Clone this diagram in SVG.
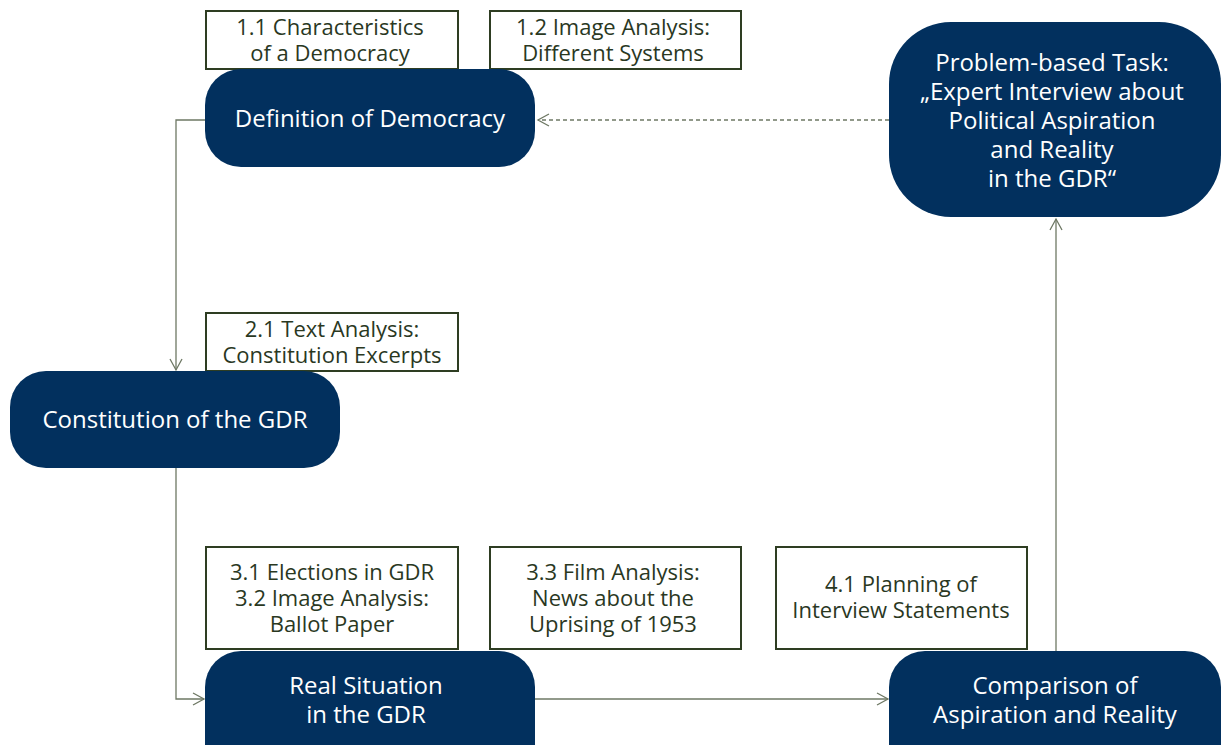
<svg xmlns="http://www.w3.org/2000/svg" width="1221" height="745" viewBox="0 0 1221 745">
<defs>
<style>
.node{fill:#02305e;}
.nt{font-family:"Open Sans","Noto Sans",sans-serif;font-size:24px;fill:#ffffff;text-anchor:middle;}
.box{fill:#ffffff;stroke:#2e3d22;stroke-width:2;}
.bt{font-family:"Open Sans","Noto Sans",sans-serif;font-size:22px;fill:#2a381f;text-anchor:middle;}
.con{fill:none;stroke:#6e7864;stroke-width:1.3;}
.dash{stroke-dasharray:4 3;}
</style>
<marker id="arr" markerWidth="14" markerHeight="14" refX="12" refY="7" orient="auto" markerUnits="userSpaceOnUse">
<path d="M1,1 L12,7 L1,13" fill="none" stroke="#6e7864" stroke-width="1.3"/>
</marker>
</defs>
<rect width="1221" height="745" fill="#ffffff"/>
<g id="connectors">
<path class="con dash" d="M889,120 L538,120" marker-end="url(#arr)"/>
<path class="con" d="M205,120 L176,120 L176,370" marker-end="url(#arr)"/>
<path class="con" d="M176,468 L176,699 L204,699" marker-end="url(#arr)"/>
<path class="con" d="M535,699 L888,699" marker-end="url(#arr)"/>
<path class="con" d="M1056,651 L1056,219" marker-end="url(#arr)"/>
</g>
<g id="box11"><rect class="box" x="206" y="11" width="252" height="58"/><text class="bt" x="330" y="35">1.1 Characteristics</text><text class="bt" x="330" y="61">of a Democracy</text></g>
<g id="box12"><rect class="box" x="490" y="11" width="251" height="58"/><text class="bt" x="613" y="35">1.2 Image Analysis:</text><text class="bt" x="613" y="61">Different Systems</text></g>
<g id="definition"><rect class="node" x="205" y="69" width="330" height="98" rx="36"/><text class="nt" x="370" y="127">Definition of Democracy</text></g>
<g id="problem"><rect class="node" x="889" y="22" width="332" height="195" rx="62"/>
<text class="nt" x="1052" y="71">Problem-based Task:</text>
<text class="nt" x="1052" y="100">„Expert Interview about</text>
<text class="nt" x="1052" y="129">Political Aspiration</text>
<text class="nt" x="1052" y="158">and Reality</text>
<text class="nt" x="1052" y="187">in the GDR“</text></g>
<g id="box21"><rect class="box" x="206" y="313" width="252" height="58"/><text class="bt" x="332" y="337">2.1 Text Analysis:</text><text class="bt" x="332" y="363">Constitution Excerpts</text></g>
<g id="constitution"><rect class="node" x="10" y="371" width="330" height="97" rx="36"/><text class="nt" x="175" y="428">Constitution of the GDR</text></g>
<g id="box31"><rect class="box" x="206" y="547" width="252" height="102"/><text class="bt" x="332" y="580">3.1 Elections in GDR</text><text class="bt" x="332" y="606">3.2 Image Analysis:</text><text class="bt" x="332" y="632">Ballot Paper</text></g>
<g id="box33"><rect class="box" x="490" y="547" width="251" height="102"/><text class="bt" x="613" y="580">3.3 Film Analysis:</text><text class="bt" x="613" y="606">News about the</text><text class="bt" x="613" y="632">Uprising of 1953</text></g>
<g id="box41"><rect class="box" x="776" y="547" width="251" height="102"/><text class="bt" x="901" y="592">4.1 Planning of</text><text class="bt" x="901" y="618">Interview Statements</text></g>
<g id="real"><rect class="node" x="205" y="651" width="330" height="130" rx="36"/><text class="nt" x="366" y="694">Real Situation</text><text class="nt" x="366" y="723">in the GDR</text></g>
<g id="comparison"><rect class="node" x="889" y="651" width="332" height="130" rx="36"/><text class="nt" x="1055" y="694">Comparison of</text><text class="nt" x="1055" y="723">Aspiration and Reality</text></g>
</svg>
